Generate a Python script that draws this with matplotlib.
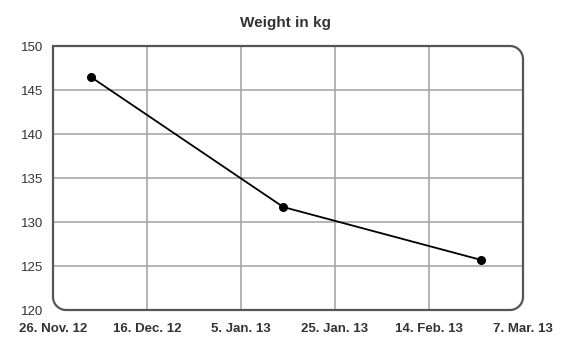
import matplotlib
matplotlib.use("Agg")
import matplotlib.pyplot as plt
from matplotlib.path import Path
from matplotlib.patches import PathPatch
import datetime as dt

start_date = "2012-11-26"
dates = ["2012-12-04", "2013-01-14", "2013-02-25"]
weights = [146.5, 131.7, 125.7]
x_tick_days = [0, 20, 40, 60, 80, 100]
x_tick_labels = ["26. Nov. 12", "16. Dec. 12", "5. Jan. 13", "25. Jan. 13", "14. Feb. 13", "7. Mar. 13"]
y_ticks = [120, 125, 130, 135, 140, 145, 150]
title = "Weight in kg"

d0 = dt.date.fromisoformat(start_date)
xdays = [(dt.date.fromisoformat(d) - d0).days for d in dates]

plt.rcParams['font.family'] = ['Liberation Sans', 'DejaVu Sans']

fig = plt.figure(figsize=(5.7, 3.6), dpi=100)
ax = fig.add_axes([53/570, 1-310/360, (523-53)/570, (310-46)/360])

ax.set_xlim(0, 100)
ax.set_ylim(120, 150)
ax.set_xticks(x_tick_days)
ax.set_xticklabels(x_tick_labels, fontweight='bold', color='#333333', fontsize=9.5)
ax.set_yticks(y_ticks)
ax.set_yticklabels([str(v) for v in y_ticks], color='#333333', fontsize=9.5)
ax.tick_params(axis='y', length=0, pad=7)
ax.tick_params(axis='x', length=0, pad=9.5)
for s in ax.spines.values():
    s.set_visible(False)

# rounded border (top-left square)
W = (523-53); H = (310-46)
rx = 13 / W
ry = 13 / H
k = 0.55
verts = [
    (0, 1), (1 - rx, 1),
    (1 - rx*(1-k), 1), (1, 1 - ry*(1-k)), (1, 1 - ry),
    (1, ry),
    (1, ry*(1-k)), (1 - rx*(1-k), 0), (1 - rx, 0),
    (rx, 0),
    (rx*(1-k), 0), (0, ry*(1-k)), (0, ry),
    (0, 1),
]
codes = [Path.MOVETO, Path.LINETO,
         Path.CURVE4, Path.CURVE4, Path.CURVE4,
         Path.LINETO,
         Path.CURVE4, Path.CURVE4, Path.CURVE4,
         Path.LINETO,
         Path.CURVE4, Path.CURVE4, Path.CURVE4,
         Path.CLOSEPOLY]
border_path = Path(verts, codes)
clip = PathPatch(border_path, transform=ax.transAxes, facecolor='none', edgecolor='none')
ax.add_patch(clip)

# interior grid lines, clipped to rounded border
for xv in x_tick_days:
    l = ax.axvline(xv, color='#a8a8a8', linewidth=1.2, zorder=1)
    l.set_clip_path(clip)
for yv in y_ticks:
    l = ax.axhline(yv, color='#a8a8a8', linewidth=1.2, zorder=1)
    l.set_clip_path(clip)

ax.plot(xdays, weights, color='black', linewidth=1.3, marker='o', markersize=5.5, zorder=3, clip_on=False)

patch = PathPatch(border_path, transform=ax.transAxes, facecolor='none',
                  edgecolor='#555555', linewidth=1.6, clip_on=False, zorder=4)
ax.add_patch(patch)

fig.text(0.5, 1 - 23/360, title, ha='center', va='center', fontsize=11,
         fontweight='bold', color='#333333')

fig.savefig("out.png", dpi=100, facecolor='white')
